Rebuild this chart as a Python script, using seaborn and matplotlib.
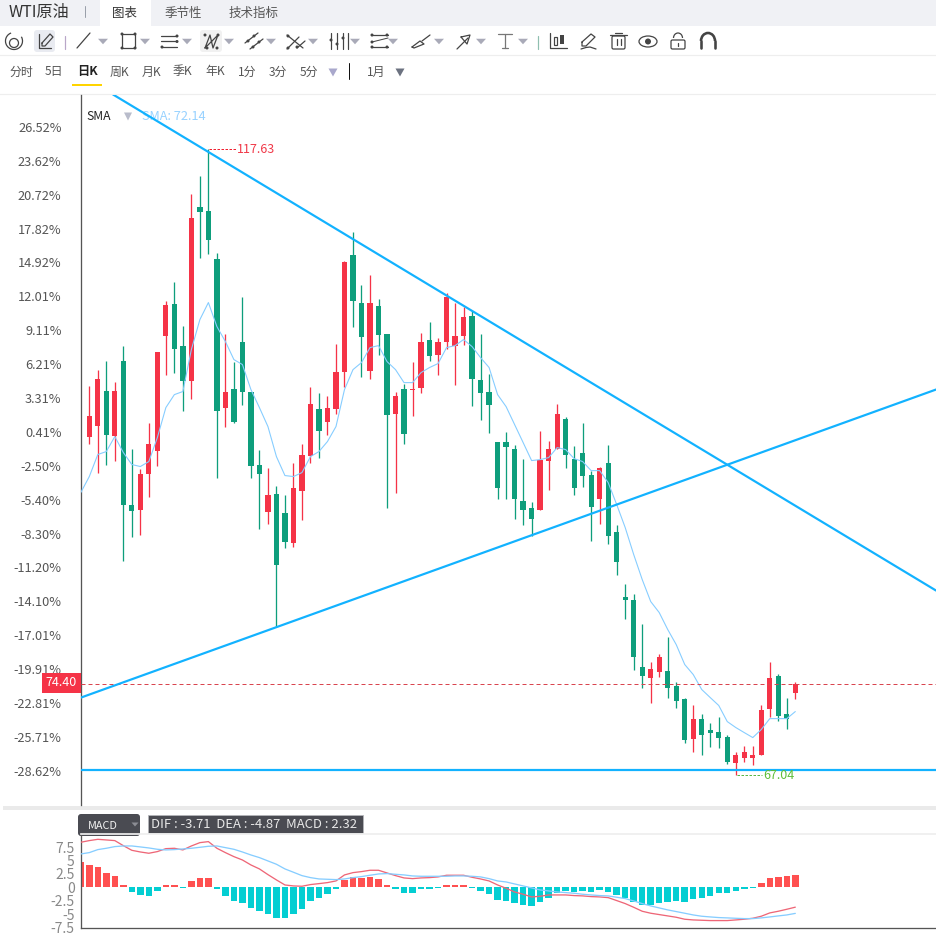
import matplotlib
matplotlib.use("Agg")
import matplotlib.pyplot as plt
from matplotlib.patches import Rectangle, FancyBboxPatch, Circle, Polygon, Arc, Ellipse
import numpy as np
import pandas as pd
import seaborn as sns

# Daily WTI candles, oldest first
opens = [94.36, 95.25, 98.08, 94.44, 100.50, 88.87, 88.46, 91.37, 93.23, 102.52, 105.11, 101.71, 98.89, 112.94,
         112.62, 108.74, 96.70, 98.24, 102.04, 98.00, 92.10, 88.30, 89.75, 88.22, 85.80, 90.00, 92.83, 96.62,
         95.57, 96.62, 99.61, 109.07, 105.19, 99.69, 104.95, 102.68, 96.22, 98.24, 98.16, 98.32, 102.20, 100.99,
         102.04, 101.71, 102.52, 104.14, 98.97, 98.00, 93.96, 93.96, 93.39, 89.19, 88.62, 88.46, 92.42, 93.39,
         95.81, 92.58, 93.07, 91.29, 89.35, 92.26, 86.68, 81.43, 81.19, 75.78, 74.89, 75.37, 75.45, 74.24,
         73.19, 69.96, 71.57, 70.61, 70.52, 70.12, 68.02, 68.42, 68.42, 68.59, 72.38, 75.05, 71.98, 73.68]
highs = [98.48, 99.77, 100.50, 98.80, 101.71, 93.39, 91.77, 95.49, 101.23, 105.35, 106.88, 103.33, 113.99, 115.45,
         117.63, 109.23, 102.68, 100.42, 105.67, 98.00, 93.31, 91.86, 90.40, 89.67, 92.26, 93.79, 98.40, 97.92,
         97.67, 101.87, 108.58, 110.92, 106.64, 107.45, 105.51, 102.68, 98.00, 98.64, 100.42, 102.76, 103.65, 102.36,
         106.00, 105.19, 104.86, 104.54, 102.68, 99.45, 93.96, 94.76, 93.71, 92.58, 89.11, 94.85, 94.04, 97.03,
         95.98, 93.63, 95.49, 91.61, 91.94, 93.71, 87.25, 82.48, 81.67, 79.25, 76.18, 76.83, 78.20, 74.56,
         73.27, 72.63, 71.98, 71.25, 71.74, 70.28, 68.91, 69.39, 69.39, 72.63, 76.18, 75.21, 73.27, 74.56]
lows = [93.79, 91.45, 92.10, 92.42, 84.34, 86.28, 86.44, 89.51, 92.02, 99.37, 99.53, 96.46, 97.43, 108.82,
        109.15, 91.05, 95.17, 95.49, 96.95, 91.05, 86.93, 87.33, 79.01, 85.39, 85.47, 87.65, 92.26, 92.66,
        94.52, 96.22, 98.40, 103.25, 99.21, 99.05, 100.99, 88.62, 89.84, 93.79, 96.06, 97.92, 100.50, 99.37,
        101.47, 98.56, 101.79, 96.87, 95.73, 94.68, 89.35, 89.35, 87.73, 87.25, 86.36, 88.46, 90.08, 93.39,
        91.86, 89.67, 90.32, 85.96, 87.33, 85.71, 83.21, 79.65, 75.53, 74.08, 72.87, 74.97, 73.27, 72.46,
        69.64, 68.91, 68.59, 69.31, 69.23, 67.94, 67.04, 68.10, 67.86, 68.59, 71.74, 71.41, 70.77, 73.19]
closes = [96.06, 99.05, 94.52, 98.08, 88.87, 88.38, 91.37, 93.79, 101.23, 105.03, 101.47, 98.89, 112.06, 112.54,
          110.28, 96.46, 98.00, 95.57, 98.00, 92.02, 91.37, 89.67, 84.02, 85.88, 90.24, 92.91, 97.03, 94.85,
          96.70, 99.61, 108.50, 105.35, 102.44, 105.19, 102.60, 96.14, 97.67, 94.60, 98.24, 102.04, 100.91, 102.04,
          105.67, 102.52, 104.06, 99.05, 97.92, 96.95, 90.24, 93.55, 89.35, 88.46, 87.73, 92.50, 93.39, 96.22,
          92.91, 90.24, 91.21, 88.70, 91.86, 86.36, 84.26, 81.19, 76.58, 75.05, 75.61, 76.58, 74.08, 73.03,
          69.88, 71.57, 70.28, 70.44, 70.04, 68.10, 68.59, 68.91, 68.67, 72.30, 74.89, 71.82, 71.57, 74.40]

# Moving average, starting one session before the first candle
sma = [89.84, 91.13, 92.91, 93.15, 94.36, 93.07, 92.10, 91.94, 92.34, 94.28, 96.70, 97.75, 98.00, 101.39, 103.81,
       105.19, 103.25, 102.04, 100.58, 100.18, 98.16, 96.70, 95.17, 92.74, 91.21, 91.13, 91.45, 92.74, 93.15,
       93.96, 95.17, 98.16, 99.77, 100.34, 101.55, 101.71, 100.42, 99.77, 98.72, 98.72, 99.53, 99.94, 100.26,
       101.55, 101.71, 102.20, 101.63, 100.74, 99.94, 97.75, 96.78, 95.33, 93.88, 92.42, 92.50, 92.66, 93.47,
       93.31, 92.58, 92.34, 91.61, 91.61, 90.64, 88.87, 87.01, 84.83, 82.81, 81.03, 80.14, 78.77, 77.55, 75.94,
       75.13, 73.92, 73.27, 72.63, 71.33, 70.85, 70.44, 70.04, 70.69, 71.57, 71.57, 71.57, 72.14]

# MACD study, same sessions as the moving average
macd_hist = [4.72, 4.16, 3.79, 2.67, 2.11, 0.43, -0.87, -1.43, -1.61, -0.62, 0.43, 0.43, -0.12, 1.18, 1.74, 1.74,
             -0.31, -1.55, -2.61, -2.98, -3.91, -4.47, -4.97, -5.78, -5.78, -5.03, -4.04, -2.61, -1.99, -1.30,
             -0.37, 1.37, 1.93, 1.74, 1.93, 1.55, 0.43, -0.31, -1.06, -1.06, -0.37, -0.31, -0.12, 0.43, 0.43, 0.43,
             -0.19, -0.68, -1.24, -2.36, -2.55, -2.98, -3.35, -3.42, -2.67, -1.99, -1.06, -0.75, -0.93, -0.75,
             -0.87, -0.50, -0.87, -1.49, -1.99, -2.73, -3.29, -3.35, -2.92, -2.73, -2.55, -2.73, -2.24, -1.99,
             -1.61, -1.06, -1.06, -0.68, -0.31, -0.05, 0.81, 1.74, 1.93, 2.11, 2.32]
dif = [8.39, 8.70, 8.94, 8.82, 8.70, 7.76, 6.89, 6.58, 6.34, 6.65, 7.20, 7.27, 6.96, 7.70, 8.32, 8.51, 7.27, 6.46,
       5.71, 5.09, 4.16, 3.42, 2.36, 1.37, 0.43, 0.25, 0.19, 0.50, 0.68, 0.87, 1.18, 2.30, 2.73, 2.92, 3.17, 3.17,
       2.67, 2.17, 1.74, 1.61, 1.74, 1.80, 1.93, 2.24, 2.24, 2.24, 1.86, 1.55, 1.18, 0.43, -0.19, -0.87, -1.30,
       -1.80, -1.68, -1.43, -1.43, -1.43, -1.55, -1.61, -1.74, -1.80, -1.93, -2.48, -3.04, -3.73, -4.47, -4.84,
       -5.09, -5.34, -5.59, -5.96, -6.09, -6.15, -6.21, -6.21, -6.21, -6.09, -5.96, -5.78, -5.40, -4.78, -4.47,
       -4.10, -3.71]
dea = [6.21, 6.46, 7.02, 7.27, 7.58, 7.70, 7.70, 7.52, 7.33, 7.08, 6.96, 7.02, 7.14, 7.27, 7.45, 7.64, 7.70, 7.39,
       7.08, 6.58, 6.02, 5.53, 4.91, 4.29, 3.42, 2.80, 2.17, 1.80, 1.55, 1.49, 1.43, 1.55, 1.80, 1.99, 2.24, 2.48,
       2.55, 2.42, 2.30, 2.11, 2.05, 2.05, 2.05, 2.05, 2.11, 2.11, 2.05, 1.93, 1.61, 1.18, 0.99, 0.62, 0.25, -0.12,
       -0.50, -0.68, -0.87, -0.99, -1.12, -1.30, -1.43, -1.55, -1.61, -1.86, -2.11, -2.55, -3.04, -3.48, -3.85,
       -4.22, -4.53, -4.84, -5.16, -5.40, -5.53, -5.65, -5.71, -5.78, -5.84, -5.84, -5.71, -5.53, -5.34, -5.16,
       -4.87]

# Percent axis labels, measured against the reference close
pct_ticks = [26.52, 23.62, 20.72, 17.82, 14.92, 12.01, 9.11, 6.21, 3.31, 0.41, -2.50, -5.40, -8.30, -11.20,
             -14.10, -17.01, -19.91, -22.81, -25.71, -28.62]
reference_close = 94.35
macd_ticks = [7.5, 5, 2.5, 0, -2.5, -5, -7.5]
macd_tick_labels = ["7.5", "5", "2.5", "0", "-2.5", "-5", "-7.5"]

# Trend lines as (session, price) pairs
falling_line = ([2.79, 99.54], [122.00, 81.92])
rising_line = ([-0.98, 99.54], [73.27, 98.16])
support_price = 67.45
last_price = 74.40
max_price = 117.63
min_price = 67.04

period_tabs = [("分时", 9), ("5日", 45), ("周K", 110), ("月K", 142), ("季K", 173), ("年K", 205),
               ("1分", 238), ("3分", 269), ("5分", 300), ("1月", 367)]
page_tabs = [("图表", 112, "#333333"), ("季节性", 165, "#555555"), ("技术指标", 229, "#555555")]

RED = "#F53347"
GREEN = "#0E9E7C"
TREND = "#12B2FF"
SMA_BLUE = "#86CDFF"
CJK = ["Noto Sans CJK SC", "DejaVu Sans"]

sns.set_theme(style="white")
plt.rcParams["font.family"] = CJK
plt.rcParams["axes.unicode_minus"] = False

W, H = 936, 938
fig = plt.figure(figsize=(W / 100, H / 100), dpi=100, facecolor="white")
PX = 0.72  # one pixel, in points


def box(left, top, right, bottom):
    return [left / W, 1 - bottom / H, (right - left) / W, (bottom - top) / H]


# Application chrome is laid out in screen pixels on its own layer
ui = fig.add_axes([0, 0, 1, 1], zorder=0)
ui.set_xlim(0, W)
ui.set_ylim(H, 0)
ui.axis("off")

ICON = "#444444"


def seg(xs, ys, color=ICON, lw=1.25):
    ui.plot(xs, ys, color=color, lw=lw * PX, solid_capstyle="round")


def dot(x, y, r=1.5, color=ICON):
    ui.add_patch(Circle((x, y), r, fc=color, ec="none"))


def caret(x, y=41, color="#A9AAB8", w=5, h=4.5):
    ui.add_patch(Polygon([(x - w, y - h / 2), (x + w, y - h / 2), (x, y + h / 2 + 1)], fc=color, ec="none"))


ui.add_patch(Rectangle((0, 0), W, 26, fc="#F0F1F5", ec="none"))
ui.add_patch(Rectangle((100, 0), 51, 26, fc="white", ec="none"))
ui.text(9, 13, "WTI原油", fontsize=11.6, color="#333333", va="center", ha="left")
seg([84.5, 84.5], [6, 17], "#9AA0AA", 1)
for label, x, col in page_tabs:
    ui.text(x, 13, label, fontsize=9.0, color=col, va="center", ha="left")
seg([0, W], [55, 55], "#EEEEEE", 1.2)
seg([0, W], [94.5, 94.5], "#EEEEEE", 1.2)

# Drawing toolbar
ui.add_patch(FancyBboxPatch((34, 30), 21, 22, boxstyle="round,pad=0,rounding_size=3", fc="#E9EBF1", ec="none"))
ui.add_patch(FancyBboxPatch((200, 30), 22, 22, boxstyle="round,pad=0,rounding_size=3", fc="#F1F1F1", ec="none"))
ui.add_patch(Arc((14, 41), 17, 17, theta1=-30, theta2=250, ec=ICON, lw=1.25 * PX))
ui.add_patch(Circle((14, 43), 4.5, fc="none", ec=ICON, lw=1.25 * PX))
seg([39, 39, 51], [34, 48, 48])
seg([42, 50, 53, 45, 42, 42], [43, 34, 37, 46, 46, 43])
seg([64.5, 64.5], [36, 49], "#B9A6C8", 1.2)
seg([77, 90], [48, 33])
caret(103)
ui.add_patch(Rectangle((122, 34), 13, 14, fc="none", ec=ICON, lw=1.25 * PX))
for p in [(122, 34), (135, 34), (122, 48), (135, 48)]:
    dot(*p)
caret(145)
for yy in (36, 41.5, 47):
    seg([161, 177], [yy, yy])
dot(177, 36), dot(177, 41.5), dot(162, 47)
caret(187)
seg([205, 210, 213, 218, 205], [48, 35, 48, 35, 48], ICON, 1.25)
for p in [(205, 35), (218, 35), (207, 48), (217, 48)]:
    dot(*p)
caret(229)
seg([245, 258], [43, 33]), seg([250, 263], [49, 39])
for p in [(248, 41), (254, 36), (253, 47), (259, 42)]:
    dot(*p)
caret(271)
seg([287, 303], [35, 48]), seg([287, 299], [49, 37]), seg([297, 305], [48, 41])
for p in [(288, 36), (288, 48), (297, 47)]:
    dot(*p)
caret(313)
for xx in (331, 337, 343, 348):
    seg([xx, xx], [33, 49], ICON, 1.2)
dot(331, 40), dot(337, 44), dot(343, 38)
caret(355)
seg([371, 388], [35, 35]), seg([371, 388], [47, 47]), seg([372, 388], [42, 38], ICON, 1)
dot(372, 35), dot(387, 35), dot(372, 42), dot(372, 47), dot(387, 47)
caret(393)
seg([412, 420, 424, 414, 412], [47, 41, 44, 48, 47]), seg([422, 430], [41, 35])
caret(439)
seg([457, 468], [49, 38]), seg([461, 470, 467, 461], [37, 35, 44, 37])
caret(481)
seg([498, 512], [34.5, 34.5], "#777777"), seg([505, 505], [34, 48], "#777777"), seg([502, 508], [48.5, 48.5], "#777777")
caret(523)
seg([537.5, 537.5], [36, 49], "#8FBFB0", 1.2)
seg([550, 550, 567], [33, 48.5, 48.5])
ui.add_patch(Rectangle((553.5, 37), 3.5, 8, fc="none", ec=ICON, lw=1.2 * PX))
ui.add_patch(Rectangle((559.5, 35), 4, 9, fc=ICON, ec="none"))
seg([582, 591, 595, 586, 582, 582], [42, 34, 37, 46, 46, 42]), seg([581, 586, 590, 596], [49, 47.5, 47, 49])
seg([610, 627], [35, 35]), seg([615, 622], [33, 33])
ui.add_patch(FancyBboxPatch((612, 36), 13, 13, boxstyle="round,pad=0,rounding_size=1.5", fc="none", ec=ICON, lw=1.25 * PX))
seg([616.5, 616.5], [39, 45]), seg([620.5, 620.5], [39, 45])
ui.add_patch(Ellipse((648, 41.5), 18, 11, fc="none", ec=ICON, lw=1.25 * PX))
dot(648, 41.5, 3.0)
ui.add_patch(FancyBboxPatch((671, 40), 14, 9, boxstyle="round,pad=0,rounding_size=1.5", fc="none", ec=ICON, lw=1.25 * PX))
ui.add_patch(Arc((678, 38), 9, 10, theta1=180, theta2=360, ec=ICON, lw=1.25 * PX))
seg([678, 678], [43, 46])
ui.add_patch(Arc((708, 41), 14, 16, theta1=180, theta2=360, ec=ICON, lw=2.6 * PX))
seg([701, 701], [41, 48], ICON, 2.6), seg([715, 715], [41, 48], ICON, 2.6)

# Period selector
for label, x in period_tabs:
    ui.text(x, 72, label, fontsize=8.6, color="#555555", va="center", ha="left")
ui.text(77, 72, "日K", fontsize=8.8, color="#222222", va="center", ha="left", fontweight="bold")
ui.add_patch(Rectangle((72, 84), 30, 2, fc="#FFD400", ec="none"))
caret(333, 72, "#A9A8CC", 4.5, 7)
caret(400, 72, "#6C7280", 4.5, 7)
seg([348.5, 348.5], [63, 79], "#111111", 1)
ui.add_patch(Rectangle((3, 806), W - 3, 4, fc="#EAEAEA", ec="none"))

# Price panel
ax = fig.add_axes(box(81, 95, 936, 805), zorder=2)
ax.patch.set_alpha(0)
sessions = np.arange(len(closes))
study_sessions = np.arange(-1, len(closes))
candles = pd.DataFrame({"session": sessions, "open": opens, "high": highs, "low": lows, "close": closes})
candles["color"] = np.where(candles["close"] >= candles["open"], RED, GREEN)
ax.vlines(candles["session"], candles["low"], candles["high"], colors=candles["color"], lw=1.3 * PX, zorder=2)
ax.bar(candles["session"], (candles["close"] - candles["open"]).abs(),
       bottom=candles[["open", "close"]].min(axis=1), width=0.62, color=candles["color"], linewidth=0, zorder=3)
sns.lineplot(x=study_sessions, y=sma, ax=ax, color=SMA_BLUE, lw=1.1 * PX, legend=False, zorder=4)
ax.plot(*falling_line, color=TREND, lw=2.2 * PX, zorder=5)
ax.plot(*rising_line, color=TREND, lw=2.2 * PX, zorder=5)
ax.axhline(support_price, color=TREND, lw=2.2 * PX, zorder=5)
ax.axhline(last_price, color="#D9454F", lw=1 * PX, ls=(0, (4, 3)), zorder=4)

ax.set_xlim(-0.976, 99.54)
ax.set_ylim(64.59, 121.96)
ax.set_yticks([reference_close * (1 + p / 100) for p in pct_ticks])
ax.set_yticklabels([f"{p:.2f}%" for p in pct_ticks])
ax.tick_params(axis="y", length=0, pad=14, labelsize=9.2, labelcolor="#555555")
ax.set_xticks([])
ax.set_xlabel("")
ax.set_ylabel("")
for side in ("top", "right", "bottom"):
    ax.spines[side].set_visible(False)
ax.spines["left"].set_color("#555555")
ax.spines["left"].set_linewidth(1.3 * PX)

ax.plot([14.1, 17.2], [max_price, max_price], color="#F02030", lw=1 * PX, ls=(0, (2.5, 1.5)), zorder=6)
ax.annotate(f"{max_price:.2f}", (17.3, max_price), xytext=(0, -0.7), textcoords="offset points",
            color="#F03848", fontsize=9.0, va="center", ha="left", zorder=6)
ax.plot([76.1, 79.1], [min_price, min_price], color="#58B848", lw=1 * PX, ls=(0, (2.5, 1.5)), zorder=6)
ax.annotate(f"{min_price:.2f}", (79.2, min_price), xytext=(0, -0.7), textcoords="offset points",
            color="#5FBF3A", fontsize=9.0, va="center", ha="left", zorder=6)

ui.text(86, 116.5, "SMA", fontsize=8.8, color="#222222", va="center", ha="left")
caret(128, 116, "#B9BCCB", 4, 7)
ui.text(142, 116.5, "SMA: 72.14", fontsize=9.2, color="#98D2FF", va="center", ha="left")

# Last price flag sits over the percent labels
flag = fig.add_axes([0, 0, 1, 1], zorder=3)
flag.set_xlim(0, W)
flag.set_ylim(H, 0)
flag.axis("off")
flag.add_patch(Rectangle((42, 673), 39, 20, fc="#F53347", ec="none"))
flag.text(61, 683, f"{last_price:.2f}", color="white", fontsize=9.0, va="center", ha="center")

# MACD panel
ax2 = fig.add_axes(box(81, 834, 936, 927.5), zorder=2)
ax2.patch.set_alpha(0)
hist = pd.DataFrame({"session": study_sessions, "value": macd_hist})
hist["side"] = np.where(hist["value"] >= 0, "up", "down")
sns.barplot(data=hist, x="session", y="value", hue="side", palette={"up": "#FF5050", "down": "#04CED2"},
            native_scale=True, dodge=False, width=0.76, saturation=1, legend=False, linewidth=0, ax=ax2, zorder=2)
sns.lineplot(x=study_sessions, y=dif, ax=ax2, color="#EE6677", lw=1.3 * PX, legend=False, zorder=3)
sns.lineplot(x=study_sessions, y=dea, ax=ax2, color=SMA_BLUE, lw=1.3 * PX, legend=False, zorder=3)
ax2.set_xlim(-0.976, 99.54)
ax2.set_ylim(-7.5, 9.93)
ax2.set_yticks(macd_ticks)
ax2.set_yticklabels(macd_tick_labels)
ax2.tick_params(axis="y", length=0, pad=4.5, labelsize=10, labelcolor="#888888")
ax2.set_xticks([])
ax2.set_xlabel("")
ax2.set_ylabel("")
ax2.spines["right"].set_visible(False)
ax2.spines["top"].set_color("#EEEEEE")
for side in ("left", "bottom"):
    ax2.spines[side].set_color("#555555")
    ax2.spines[side].set_linewidth(1.3 * PX)

ui.add_patch(FancyBboxPatch((78, 814), 62, 22, boxstyle="round,pad=0,rounding_size=3", fc="#4A4B52", ec="none", zorder=5))
ui.text(88, 826, "MACD", color="#F2F2F2", fontsize=7.8, va="center", ha="left", zorder=6)
caret(135, 824, "#8C8D94", 3.5, 3)
ui.patches[-1].set_zorder(6)
ui.add_patch(Rectangle((147.5, 815.5), 215, 18, fc="#4A4B52", ec="#B5B6BA", lw=0.8 * PX, zorder=5))
ui.text(151, 825, f"DIF : {dif[-1]:.2f}  DEA : {dea[-1]:.2f}  MACD : {macd_hist[-1]:.2f}",
        color="#E8E8E8", fontsize=9.4, va="center", ha="left", zorder=6)

fig.savefig("out.png", dpi=100)
